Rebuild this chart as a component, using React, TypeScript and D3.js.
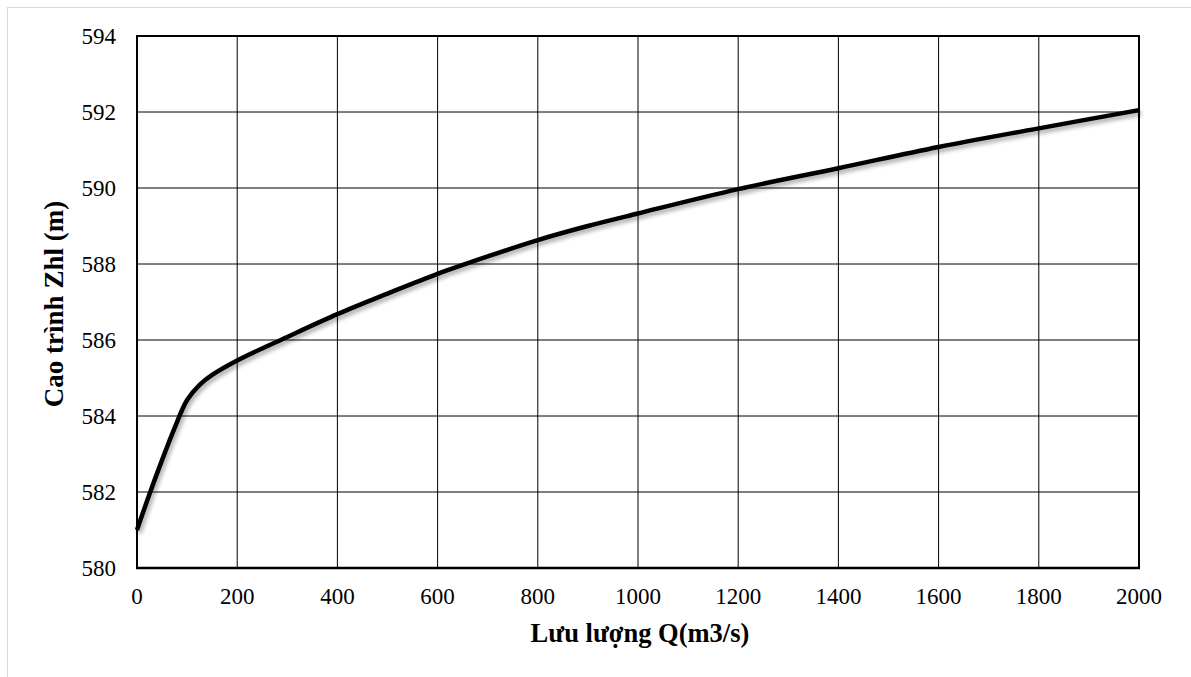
import React from "react";
import * as d3 from "d3";

const flowQ = [0, 25, 50, 75, 100, 125, 150, 200, 300, 400, 500, 600, 700, 800, 900, 1000, 1200, 1400, 1600, 1800, 2000];
const levelZ = [581.0, 581.95, 582.84, 583.68, 584.42, 584.82, 585.08, 585.46, 586.08, 586.68, 587.22, 587.74, 588.2, 588.63, 589.0, 589.33, 589.97, 590.52, 591.08, 591.57, 592.05];
const xTicks = [0, 200, 400, 600, 800, 1000, 1200, 1400, 1600, 1800, 2000];
const yTicks = [580, 582, 584, 586, 588, 590, 592, 594];
const xTitle = "Lưu lượng Q(m3/s)";
const yTitle = "Cao trình Zhl (m)";

const W = 1191;
const H = 677;
const left = 137, right = 1139, top = 36, bottom = 568;
const FONT = "'Liberation Serif', 'Times New Roman', serif";

export default function App() {
  const x = d3.scaleLinear().domain([0, 2000]).range([left, right]);
  const y = d3.scaleLinear().domain([580, 594]).range([bottom, top]);
  const pts: [number, number][] = flowQ.map((q, i) => [q, levelZ[i]]);
  const line = d3
    .line<[number, number]>()
    .x((d) => x(d[0]))
    .y((d) => y(d[1]))
    .curve(d3.curveCatmullRom.alpha(0.5));

  return (
    <svg width={W} height={H} style={{ position: "absolute", left: 0, top: 0, background: "#fff" }}>
      <defs>
        <filter id="shadow" x="-5%" y="-20%" width="110%" height="140%">
          <feDropShadow dx="2" dy="3" stdDeviation="2" floodColor="#000" floodOpacity="0.35" />
        </filter>
      </defs>
      <rect x={0} y={0} width={W} height={H} fill="#fff" />
      <rect x={7.5} y={7.5} width={1200} height={700} fill="#fff" stroke="#d9d9d9" strokeWidth={1} />
      {/* grid */}
      {xTicks.map((v) => (
        <line key={"gx" + v} x1={x(v)} x2={x(v)} y1={top} y2={bottom} stroke="#000" strokeWidth={1} />
      ))}
      {yTicks.map((v) => (
        <line key={"gy" + v} x1={left} x2={right} y1={y(v)} y2={y(v)} stroke="#000" strokeWidth={1} />
      ))}
      {/* frame */}
      <rect x={left} y={top} width={right - left} height={bottom - top} fill="none" stroke="#000" strokeWidth={2} />
      <line x1={left - 1} x2={right + 1} y1={bottom} y2={bottom} stroke="#000" strokeWidth={2.5} />
      {/* curve */}
      <path d={line(pts) || ""} fill="none" stroke="#000" strokeWidth={4.5} strokeLinejoin="round" filter="url(#shadow)" />
      {/* ticks */}
      {yTicks.map((v) => (
        <text key={"ty" + v} x={116} y={y(v)} dy="0.35em" textAnchor="end" fontFamily={FONT} fontSize={23} fill="#000">
          {v}
        </text>
      ))}
      {xTicks.map((v) => (
        <text key={"tx" + v} x={x(v)} y={604} textAnchor="middle" fontFamily={FONT} fontSize={23} fill="#000">
          {v}
        </text>
      ))}
      <text x={640} y={642} textAnchor="middle" fontFamily={FONT} fontSize={26.5} fontWeight="bold" fill="#000">
        {xTitle}
      </text>
      <text
        transform={`translate(63, ${(top + bottom) / 2 + 2}) rotate(-90)`}
        textAnchor="middle"
        fontFamily={FONT}
        fontSize={27}
        fontWeight="bold"
        fill="#000"
      >
        {yTitle}
      </text>
    </svg>
  );
}
